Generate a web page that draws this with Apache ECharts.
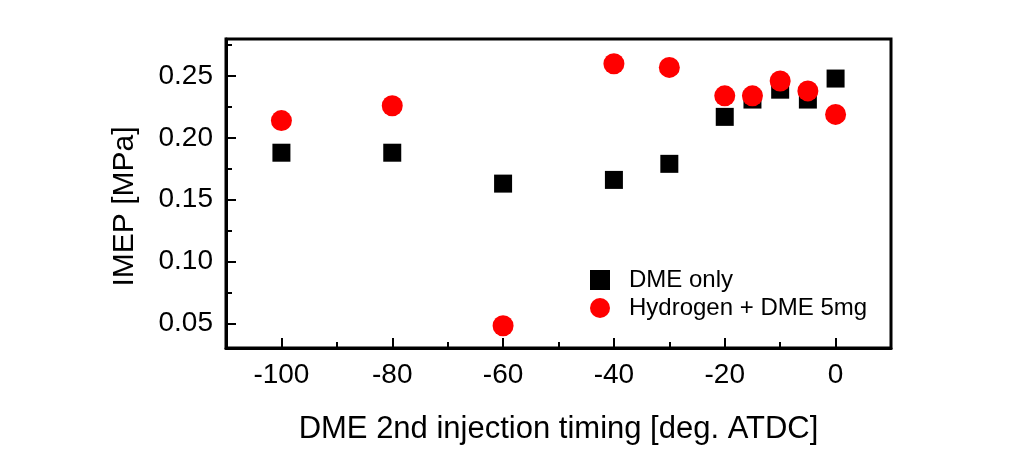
<!DOCTYPE html>
<html>
<head>
<meta charset="utf-8">
<script src="https://cdn.jsdelivr.net/npm/echarts@6/dist/echarts.min.js"></script>
<style>html,body{margin:0;padding:0;background:#fff;}#c{width:1016px;height:468px;}</style>
</head>
<body>
<div id="c"></div>
<script>
const timing = [-100, -80, -60, -40, -30, -20, -15, -10, -5, 0];
const dmeOnly = [0.188, 0.188, 0.163, 0.166, 0.179, 0.217, 0.231, 0.239, 0.231, 0.248];
const hydrogenDme = [0.214, 0.226, 0.048, 0.260, 0.257, 0.234, 0.234, 0.246, 0.238, 0.219];
const xMajorTicks = [-100, -80, -60, -40, -20, 0];
const xMinorTicks = [-90, -70, -50, -30, -10];
const yMajorTicks = [0.05, 0.10, 0.15, 0.20, 0.25];
const yMinorTicks = [0.075, 0.125, 0.175, 0.225, 0.275];
const seriesNames = ['DME only', 'Hydrogen + DME 5mg'];
const xTitle = 'DME 2nd injection timing [deg. ATDC]';
const yTitle = 'IMEP [MPa]';

const FONT = 'Arial, "Liberation Sans", sans-serif';
const chart = echarts.init(document.getElementById('c'), null, {renderer: 'canvas'});
const xMin = -110, xMax = 10, yMin = 0.03, yMax = 0.28;

chart.setOption({
  animation: false,
  backgroundColor: '#fff',
  grid: {left: 226, right: 125, top: 39, bottom: 120, show: true, borderColor: '#000', borderWidth: 3, backgroundColor: 'transparent'},
  legend: {
    orient: 'vertical', left: 585, top: 263, itemGap: 4, itemWidth: 20, itemHeight: 20,
    textStyle: {fontFamily: FONT, fontSize: 24, color: '#000', padding: [0, 0, 0, 14]},
    data: [{name: seriesNames[0], icon: 'rect'}, {name: seriesNames[1], icon: 'circle'}]
  },
  xAxis: [{
    type: 'value', min: xMin, max: xMax, position: 'bottom',
    name: xTitle, nameLocation: 'middle', nameGap: 66,
    nameTextStyle: {fontFamily: FONT, fontSize: 31, color: '#000'},
    axisLine: {show: true, onZero: false, lineStyle: {color: '#000', width: 3}},
    axisTick: {show: true, inside: true, length: 10, lineStyle: {color: '#000', width: 2}, customValues: xMajorTicks},
    axisLabel: {show: true, margin: 13, fontFamily: FONT, fontSize: 28, color: '#000', customValues: xMajorTicks, formatter: v => String(v)},
    splitLine: {show: false}
  }, {
    type: 'value', min: xMin, max: xMax, position: 'bottom', gridIndex: 0,
    axisLine: {show: false, onZero: false},
    axisTick: {show: true, inside: true, length: 6, lineStyle: {color: '#000', width: 2}, customValues: xMinorTicks},
    axisLabel: {show: false},
    splitLine: {show: false}
  }],
  yAxis: [{
    type: 'value', min: yMin, max: yMax, position: 'left',
    name: yTitle, nameLocation: 'middle', nameGap: 86,
    nameTextStyle: {fontFamily: FONT, fontSize: 30, color: '#000', padding: [0, 26, 0, 0]},
    axisLine: {show: true, onZero: false, lineStyle: {color: '#000', width: 3}},
    axisTick: {show: true, inside: true, length: 10, lineStyle: {color: '#000', width: 2}, customValues: yMajorTicks},
    axisLabel: {show: true, margin: 13, fontFamily: FONT, fontSize: 28, color: '#000', customValues: yMajorTicks, formatter: v => v.toFixed(2)},
    splitLine: {show: false}
  }, {
    type: 'value', min: yMin, max: yMax, position: 'left', gridIndex: 0,
    axisLine: {show: false, onZero: false},
    axisTick: {show: true, inside: true, length: 6, lineStyle: {color: '#000', width: 2}, customValues: yMinorTicks},
    axisLabel: {show: false},
    splitLine: {show: false}
  }],
  series: [{
    name: seriesNames[0], type: 'scatter', symbol: 'rect', symbolSize: 18,
    itemStyle: {color: '#000', opacity: 1},
    data: timing.map((t, i) => [t, dmeOnly[i]])
  }, {
    name: seriesNames[1], type: 'scatter', symbol: 'circle', symbolSize: 21,
    itemStyle: {color: '#ff0000', opacity: 1},
    data: timing.map((t, i) => [t, hydrogenDme[i]])
  }]
});
</script>
</body>
</html>
